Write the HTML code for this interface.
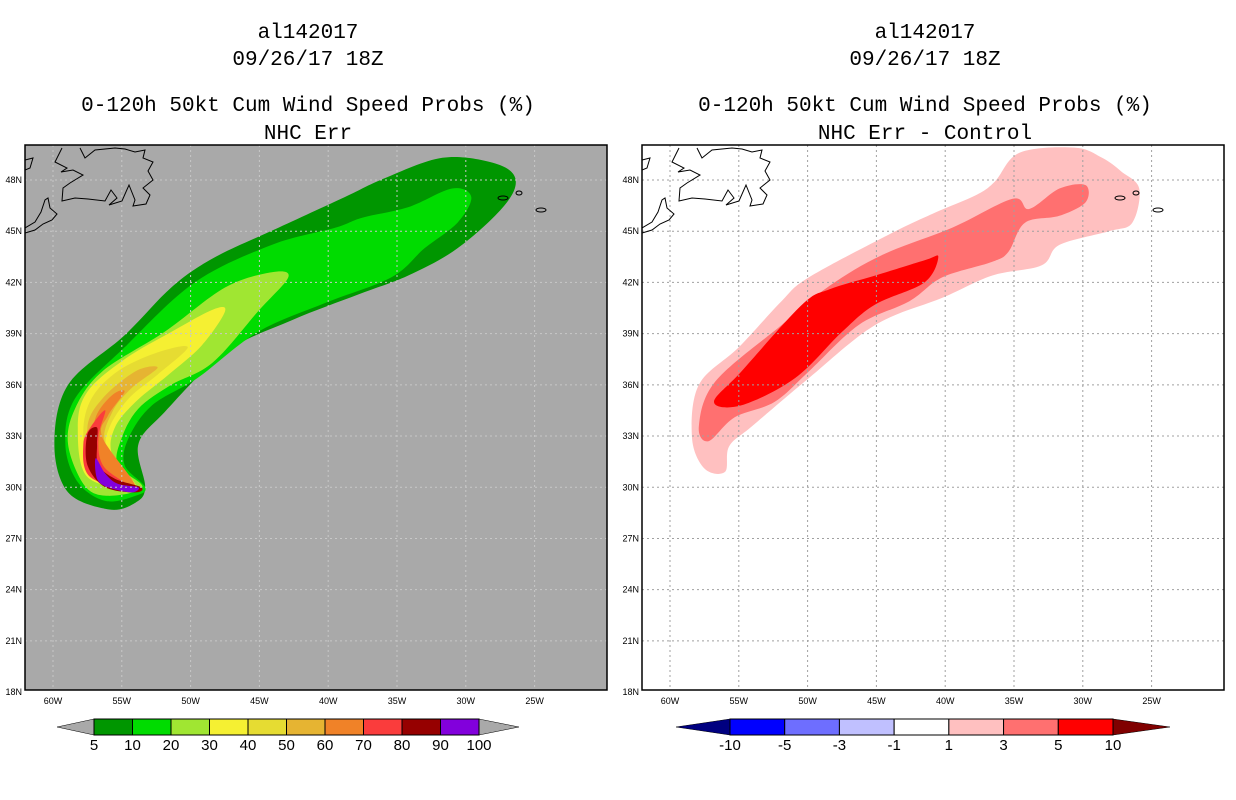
<!DOCTYPE html>
<html><head><meta charset="utf-8"><style>
html,body{margin:0;padding:0;background:#fff;}
svg{display:block;font-family:"Liberation Sans",sans-serif;}
</style></head><body>
<svg id="chart" width="1236" height="800" viewBox="0 0 1236 800"></svg>
<script>
const latTicks=[18,21,24,27,30,33,36,39,42,45,48];
const lonTicks=[60,55,50,45,40,35,30,25];
const leftLevels=["5","10","20","30","40","50","60","70","80","90","100"];
const leftColors=["#009600","#00dc00","#a0e632","#f5f032","#e6dc32","#e6b432","#f08228","#fa3c3c","#960000","#8200dc"];
const rightLevels=["-10","-5","-3","-1","1","3","5","10"];
const rightColors=["#0000ff","#6e6eff","#c0c0ff","#ffffff","#ffc0c0","#ff7070","#ff0000"];
// probability contours (lon, lat pairs)
const prob5=[[-26.4,48.1],[-28,49],[-31.7,49.3],[-35.9,48.1],[-38.8,47.0],[-43.9,45.1],[-48.4,43.4],[-51.4,41.7],[-54.8,38.9],[-58.9,36.0],[-59.9,32.5],[-58.9,29.7],[-55.9,28.7],[-54.0,29.1],[-53.3,30.0],[-53.8,32.5],[-51.9,34.4],[-47.5,37.9],[-42.6,39.8],[-37.8,41.3],[-34.2,42.4],[-30.6,44.0],[-27.2,46.5]];
const prob10=[[-29.6,47.0],[-31.0,47.5],[-34.2,46.4],[-37.5,45.8],[-39.5,45.2],[-44.1,44.2],[-49.7,42.0],[-54.8,38.2],[-58.4,35.2],[-59.1,32.5],[-58.2,30.3],[-56.2,29.2],[-54.0,29.5],[-53.3,30.0],[-54.8,31.3],[-54.5,32.9],[-52.8,34.8],[-49.5,36.4],[-45.1,39.1],[-40.2,40.8],[-35.4,42.3],[-33.0,44.0],[-30.6,45.5]];
const prob20=[[-42.9,42.3],[-44.1,42.6],[-47.5,41.7],[-51.9,39.1],[-56.4,36.8],[-58.4,34.6],[-58.9,32.5],[-57.7,30.1],[-56.0,29.5],[-53.5,30.0],[-55.3,31.3],[-55.0,32.9],[-53.8,34.6],[-51.4,36.0],[-48.4,37.3],[-45.1,40.3]];
const prob30=[[-47.5,40.3],[-48.4,40.4],[-51.4,39.1],[-54.8,37.5],[-57.5,35.6],[-58.2,33.5],[-57.5,30.6],[-54.0,30.0],[-55.7,31.9],[-55.5,33.5],[-54.0,35.0],[-51.6,36.6],[-49.2,38.3]];
const prob40=[[-50.2,38.2],[-52.4,37.9],[-55.3,36.8],[-57.2,35.2],[-57.8,33.2],[-57.2,30.7],[-54.0,30.0],[-56.0,32.1],[-55.9,33.5],[-54.5,35.2],[-52.4,36.6]];
const prob50=[[-52.4,37.0],[-54.0,36.8],[-56.4,35.2],[-57.5,33.5],[-56.9,30.9],[-54.0,30.0],[-56.2,32.5],[-55.7,34.4],[-54.3,35.8]];
const prob60=[[-54.8,35.6],[-55.7,35.4],[-56.9,34.1],[-57.2,32.1],[-56.7,30.7],[-54.0,30.0],[-56.4,32.9],[-56.0,34.2]];
const prob70=[[-56.2,34.5],[-57.2,33.6],[-57.8,32.5],[-57.3,30.6],[-54.0,29.8],[-56.3,31.2],[-56.7,32.9]];
const prob80=[[-56.8,33.5],[-57.5,33.1],[-57.5,31.3],[-56.2,30.0],[-54.0,29.7],[-53.6,30.0],[-55.5,30.5],[-56.7,31.3],[-56.8,32.5]];
const prob90=[[-56.9,31.7],[-56.8,30.5],[-56.0,30.0],[-54.3,29.7],[-53.8,30.0],[-55.3,30.2],[-56.2,30.8]];
const leftShapes=[prob5,prob10,prob20,prob30,prob40,prob50,prob60,prob70,prob80,prob90];
// difference contours
const diff1=[[-34.6,49.6],[-30.6,49.9],[-28.6,49.3],[-27.2,48.5],[-25.9,47.5],[-26.4,45.5],[-28.1,45.0],[-31.7,44.2],[-33.0,43.0],[-36.6,42.4],[-40.2,41.1],[-45.1,39.5],[-49.9,36.4],[-54.0,33.6],[-55.7,32.4],[-56.0,30.9],[-57.5,31.1],[-58.4,32.9],[-57.9,36.0],[-55.0,38.2],[-51.9,40.9],[-49.9,42.3],[-44.1,44.8],[-40.7,46.1],[-37.8,47.1],[-36.4,47.9]];
const diff3=[[-29.8,47.7],[-29.8,46.7],[-31.7,45.9],[-34.2,45.5],[-35.4,43.8],[-36.6,43.2],[-40.2,42.3],[-42.6,40.9],[-46.3,39.5],[-49.9,36.8],[-52.4,35.0],[-55.3,34.1],[-57.2,32.7],[-57.9,33.6],[-56.7,36.2],[-51.9,39.5],[-48.4,41.8],[-44.6,43.6],[-39.5,45.2],[-35.1,46.9],[-33.9,46.3],[-31.7,47.5]];
const diff5=[[-40.5,43.5],[-41.5,42.0],[-45.1,40.7],[-47.5,39.1],[-50.9,36.4],[-54.8,34.8],[-56.8,35.0],[-54.8,36.8],[-50.4,40.7],[-48.4,41.6],[-45.1,42.4],[-41.5,43.3]];
const rightShapes=[diff1,diff3,diff5];
const rightShapeColors=["#ffc0c0","#ff7070","#ff0000"];

const NS="http://www.w3.org/2000/svg";
const svg=document.getElementById('chart');
function mk(tag,attrs,parent){const e=document.createElementNS(NS,tag);for(const k in attrs)e.setAttribute(k,attrs[k]);(parent||svg).appendChild(e);return e;}
function txt(s,attrs,parent){const t=mk('text',attrs,parent);t.textContent=s;return t;}
function smooth(pts){
  const n=pts.length;let d='M'+pts[0][0].toFixed(1)+','+pts[0][1].toFixed(1);
  for(let i=0;i<n;i++){
    const p0=pts[(i-1+n)%n],p1=pts[i],p2=pts[(i+1)%n],p3=pts[(i+2)%n];
    const c1=[p1[0]+(p2[0]-p0[0])/6,p1[1]+(p2[1]-p0[1])/6];
    const c2=[p2[0]-(p3[0]-p1[0])/6,p2[1]-(p3[1]-p1[1])/6];
    d+=' C'+c1.map(v=>v.toFixed(1)).join(',')+' '+c2.map(v=>v.toFixed(1)).join(',')+' '+p2.map(v=>v.toFixed(1)).join(',');
  }
  return d+'Z';
}

function panel(ox,bg,shapes,colors,titles,side){
  const X=lon=>ox+28+(lon+60)*13.76;
  const Y=lat=>180+(48-lat)*17.07;
  const g=mk('g',{});
  
  
  const cx=ox+283;
  const ys=[38,65,111,139];
  titles.forEach((s,i)=>{const t=txt(s,{x:cx,y:ys[i],'text-anchor':'middle','font-size':21,fill:'#000','font-family':'"Liberation Mono",monospace'},g);
    
    });
  const cid='clip'+side;
  const cp=mk('clipPath',{id:cid},g);mk('rect',{x:ox,y:145,width:582,height:545},cp);
  const bgr=mk('rect',{x:ox,y:145,width:582,height:545,fill:bg},g);
  
  
  const m=mk('g',{'clip-path':'url(#'+cid+')'},g);
  shapes.forEach((sh,i)=>{const p=mk('path',{d:smooth(sh.map(q=>[X(q[0]),Y(q[1])])),fill:colors[i]},m);
    
    });
  const gc=side==='left'?'#c8c8c8':'#a0a0a0';
  lonTicks.forEach(l=>{mk('line',{x1:X(-l),x2:X(-l),y1:145,y2:690,stroke:gc,'stroke-width':1,'stroke-dasharray':'2,3'},m);});
  latTicks.forEach(l=>{mk('line',{x1:ox,x2:ox+582,y1:Y(l),y2:Y(l),stroke:gc,'stroke-width':1,'stroke-dasharray':'2,3'},m);});
  const c=mk('g',{fill:'none',stroke:'#000','stroke-width':1},m);
  
  
  const d=(pts)=>'M'+pts.map(p=>(ox+p[0])+','+p[1]).join(' L');
  mk('path',{d:d([[37,148],[30,162],[42,168],[36,172],[48,170],[58,175],[45,183],[38,188],[37,201],[50,198],[63,199],[80,201],[86,190],[92,198],[84,205],[97,201],[104,185],[110,200],[108,206],[121,204],[125,195],[118,188],[128,180],[123,171],[128,162],[118,158],[120,150],[110,152],[100,149],[90,148],[70,150],[60,158],[55,148]])},c);
  mk('path',{d:d([[0,160],[8,158],[5,168],[0,170]])},c);
  mk('path',{d:d([[0,228],[10,222],[16,212],[20,200],[23,198],[25,208],[32,214],[27,220],[18,224],[10,230],[0,233]])},c);
  [[478,198,5,2],[494,193,3,2],[516,210,5,2]].forEach(e=>mk('ellipse',{cx:ox+e[0],cy:e[1],rx:e[2],ry:e[3]},c));
  const fr=mk('rect',{x:ox,y:145,width:582,height:545,fill:'none',stroke:'#000','stroke-width':1.5},g);
  
  
  latTicks.forEach(l=>{const t=txt(l+'N',{x:ox-3,y:Y(l)+3,'text-anchor':'end','font-size':9,fill:'#000'},g);
    
    });
  lonTicks.forEach(l=>{const t=txt(l+'W',{x:X(-l),y:704,'text-anchor':'middle','font-size':9,fill:'#000'},g);
    
    });
}
panel(25,'#a9a9a9',leftShapes,leftColors,['al142017','09/26/17 18Z','0-120h 50kt Cum Wind Speed Probs (%)','NHC Err'],'left');
panel(642,'#ffffff',rightShapes,rightShapeColors,['al142017','09/26/17 18Z','0-120h 50kt Cum Wind Speed Probs (%)','NHC Err - Control'],'right');

function colorbar(x0,x1,y,h,colors,labels,lt,rt,lc,rc,side){
  const g=mk('g',{});
  
  
  const w=(x1-x0)/colors.length;
  mk('polygon',{points:`${lt},${y+h/2} ${x0},${y} ${x0},${y+h}`,fill:lc,stroke:'#000','stroke-width':0.5},g);
  mk('polygon',{points:`${rt},${y+h/2} ${x1},${y} ${x1},${y+h}`,fill:rc,stroke:'#000','stroke-width':0.5},g);
  colors.forEach((c,i)=>{const r=mk('rect',{x:x0+i*w,y:y,width:w,height:h,fill:c,stroke:'#000','stroke-width':1},g);
    
    });
  labels.forEach((s,i)=>{const t=txt(s,{x:x0+i*w,y:y+h+15,'text-anchor':'middle','font-size':15,fill:'#000'},g);
    
    });
}
colorbar(94,479,719,16,leftColors,leftLevels,57,519,'#a9a9a9','#a9a9a9','left');
colorbar(730,1113,719,16,rightColors,rightLevels,676,1170,'#000080','#800000','right');
</script>
</body></html>
